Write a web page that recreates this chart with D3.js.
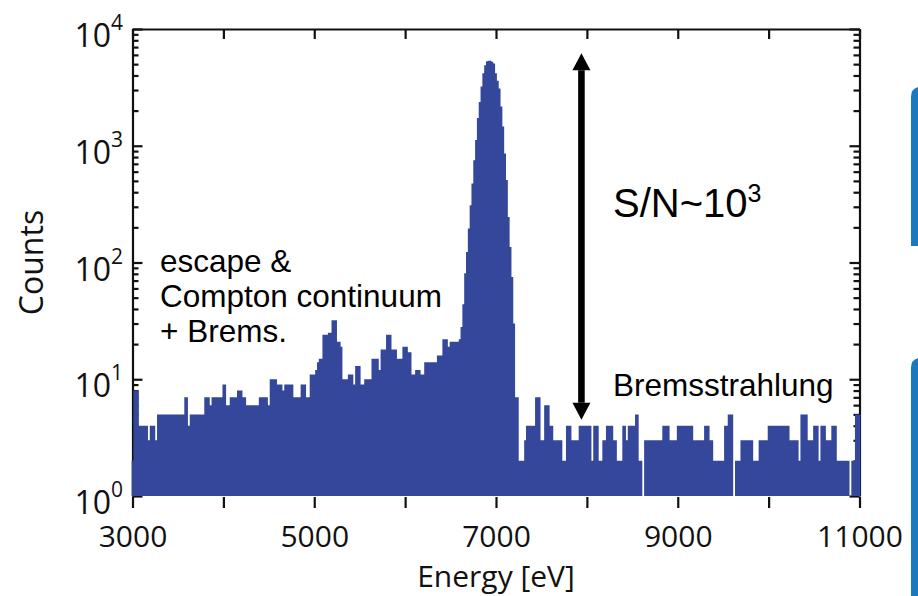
<!DOCTYPE html>
<html>
<head>
<meta charset="utf-8">
<script src="https://cdn.jsdelivr.net/npm/d3@7"></script>
<style>
  html, body { margin: 0; padding: 0; background: #fff; }
  svg { display: block; }
</style>
</head>
<body>
<svg id="chart" width="918" height="596"></svg>
<script>
// Energy spectrum: each step starts at stepStart[i] (eV) and holds stepCount[i] counts.
// Steps run on a 20 eV bin grid; the last step closes at spectrumEnd.
const stepStart = [
  2990, 3010, 3070, 3170, 3190, 3250, 3270, 3570, 3610, 3630, 3790, 3850, 3870, 3990,
  4030, 4070, 4150, 4210, 4250, 4390, 4490, 4510, 4590, 4650, 4670, 4770, 4850, 4910,
  4950, 5010, 5030, 5050, 5090, 5150, 5190, 5250, 5290, 5310, 5370, 5430, 5450, 5510,
  5550, 5630, 5710, 5730, 5790, 5850, 5910, 5970, 6030, 6070, 6110, 6170, 6210, 6350,
  6410, 6470, 6490, 6590, 6610, 6630, 6650, 6670, 6690, 6710, 6730, 6750, 6770, 6790,
  6810, 6830, 6850, 6870, 6890, 6910, 6930, 6950, 6970, 6990, 7010, 7030, 7050, 7070,
  7090, 7110, 7130, 7150, 7170, 7190, 7210, 7250, 7310, 7330, 7430, 7490, 7530, 7590,
  7630, 7730, 7770, 7830, 7910, 8050, 8070, 8130, 8170, 8210, 8290, 8330, 8390, 8430,
  8450, 8530, 8570, 8610, 8630, 8830, 8910, 8990, 9170, 9290, 9350, 9390, 9510, 9550,
  9610, 9630, 9690, 9830, 9890, 9990, 10230, 10330, 10350, 10430, 10490, 10550, 10570,
  10630, 10690, 10750, 10890, 10910, 10950
];
const stepCount = [
  2, 8, 4, 3, 4, 3, 5, 7, 4, 5, 7, 6, 7, 9,
  6, 7, 8, 7, 6, 7, 6, 10, 9, 8, 9, 7, 9, 7,
  11, 12, 14, 15, 24, 25, 32, 21, 19, 10, 11, 9, 13, 9,
  10, 15, 12, 18, 24, 18, 15, 19, 17, 11, 12, 11, 14, 16,
  22, 19, 21, 22, 28, 44, 81, 123, 196, 310, 475, 750, 1120, 1730,
  2370, 3210, 4170, 4900, 5300, 5350, 5350, 5250, 5070, 4170, 3600, 3100, 2170, 1460,
  860, 510, 245, 136, 75, 30, 7, 2, 3, 4, 7, 3, 6, 4,
  3, 2, 4, 3, 4, 2, 4, 2, 3, 4, 3, 2, 4, 3,
  4, 5, 2, 1, 3, 4, 3, 4, 3, 4, 3, 2, 4, 5,
  1, 2, 3, 2, 3, 4, 3, 2, 5, 3, 4, 2, 4,
  3, 4, 2, 1, 2, 5
];
const spectrumEnd = 11010;

// Axis ticks
const energyTicks = [3000, 4000, 5000, 6000, 7000, 8000, 9000, 10000, 11000];
const energyLabels = [3000, 5000, 7000, 9000, 11000];
const countDecades = [1, 10, 100, 1000, 10000];
const decadeExponents = ["0", "1", "2", "3", "4"];

// Signal-to-noise arrow: from the background level up to the peak level
const snArrow = { energy: 7940, low: 4.5, high: 6200 };

const svg = d3.select("#chart");
const plotLeft = 132.5, plotRight = 859.5, plotTop = 29, plotBottom = 496;

const x = d3.scaleLinear().domain([3000, 11000]).range([plotLeft, plotRight]);
const y = d3.scaleLog().domain([1, 10000]).range([plotBottom, plotTop]);

const minorCounts = d3.range(0, 4).flatMap(d => d3.range(2, 10).map(m => m * Math.pow(10, d)));

const axisColor = "#111";
const axisWidth = 2.2;

function styleAxis(g) {
  g.selectAll("path.domain").attr("stroke", axisColor).attr("stroke-width", axisWidth);
  g.selectAll(".tick line").attr("stroke", axisColor).attr("stroke-width", axisWidth);
  g.selectAll(".tick text").remove();
}

// Left axis (ticks inward)
svg.append("g").attr("transform", `translate(${plotLeft},0)`)
  .call(d3.axisRight(y).tickValues(countDecades).tickSize(10).tickSizeOuter(0).tickFormat(""))
  .call(styleAxis);
svg.append("g").attr("transform", `translate(${plotLeft},0)`)
  .call(d3.axisRight(y).tickValues(minorCounts).tickSize(6).tickSizeOuter(0).tickFormat(""))
  .call(styleAxis)
  .call(g => g.select("path.domain").remove());

// Right axis (ticks inward)
svg.append("g").attr("transform", `translate(${plotRight},0)`)
  .call(d3.axisLeft(y).tickValues(countDecades).tickSize(10).tickSizeOuter(0).tickFormat(""))
  .call(styleAxis);
svg.append("g").attr("transform", `translate(${plotRight},0)`)
  .call(d3.axisLeft(y).tickValues(minorCounts).tickSize(6).tickSizeOuter(0).tickFormat(""))
  .call(styleAxis)
  .call(g => g.select("path.domain").remove());

// Top axis (ticks inward)
svg.append("g").attr("transform", `translate(0,${plotTop})`)
  .call(d3.axisBottom(x).tickValues(energyTicks).tickSize(10).tickSizeOuter(0).tickFormat(""))
  .call(styleAxis);

// Bottom axis (ticks outward, no baseline)
const bottomAxis = svg.append("g").attr("transform", `translate(0,${plotBottom + 1})`)
  .call(d3.axisBottom(x).tickValues(energyTicks).tickSize(11).tickSizeOuter(0)
    .tickFormat(d => energyLabels.includes(d) ? String(d) : ""));
bottomAxis.select("path.domain").remove();
bottomAxis.selectAll(".tick line").attr("stroke", axisColor).attr("stroke-width", axisWidth);
bottomAxis.selectAll(".tick text")
  .attr("y", 50).attr("dy", null)
  .attr("fill", "#111")
  .style("font-family", "'Open Sans', sans-serif")
  .style("font-size", "30px");

// Histogram drawn as a filled step outline
const stepPoints = stepStart.map((e, i) => [e, stepCount[i]]);
stepPoints.push([spectrumEnd, stepCount[stepCount.length - 1]]);
const area = d3.area()
  .x(d => x(d[0]))
  .y0(plotBottom)
  .y1(d => y(d[1]))
  .curve(d3.curveStepAfter);
svg.append("path")
  .datum(stepPoints)
  .attr("d", area)
  .attr("fill", "#34479b");

// Y tick labels: 10^n
const yLabels = svg.append("g")
  .style("font-family", "'Open Sans', sans-serif")
  .attr("fill", "#111");
countDecades.forEach((v, i) => {
  const t = yLabels.append("text")
    .attr("x", 123)
    .attr("y", y(v) + 18)
    .attr("text-anchor", "end")
    .style("font-size", "32px");
  t.append("tspan").text("10");
  t.append("tspan").attr("dy", -17).style("font-size", "21px").text(decadeExponents[i]);
});

// Axis titles
svg.append("text")
  .attr("x", (plotLeft + plotRight) / 2)
  .attr("y", 587)
  .attr("text-anchor", "middle")
  .style("font-family", "'Open Sans', sans-serif")
  .style("font-size", "30px")
  .attr("fill", "#111")
  .text("Energy [eV]");
svg.append("text")
  .attr("transform", `translate(43,${(plotTop + plotBottom) / 2}) rotate(-90)`)
  .attr("text-anchor", "middle")
  .style("font-family", "'Open Sans', sans-serif")
  .style("font-size", "32px")
  .attr("fill", "#111")
  .text("Counts");

// Double-headed arrow for S/N
const ax = x(snArrow.energy);
const yHi = y(snArrow.high), yLo = y(snArrow.low);
const headLen = 17, headHalf = 9, shaftHalf = 3.3;
svg.append("path")
  .attr("d", `M${ax - shaftHalf},${yHi + headLen} L${ax + shaftHalf},${yHi + headLen} L${ax + shaftHalf},${yLo - headLen} L${ax - shaftHalf},${yLo - headLen} Z`)
  .attr("fill", "#000");
svg.append("path")
  .attr("d", `M${ax},${yHi} L${ax + headHalf},${yHi + headLen} L${ax - headHalf},${yHi + headLen} Z`)
  .attr("fill", "#000");
svg.append("path")
  .attr("d", `M${ax},${yLo} L${ax + headHalf},${yLo - headLen} L${ax - headHalf},${yLo - headLen} Z`)
  .attr("fill", "#000");

// Annotations
const note = svg.append("g")
  .style("font-family", "'Liberation Sans', Arial, sans-serif")
  .attr("fill", "#000");
[["escape &", 272], ["Compton continuum", 307], ["+ Brems.", 342]].forEach(([s, yy]) => {
  note.append("text").attr("x", 160).attr("y", yy).style("font-size", "31.5px").text(s);
});
note.append("text").attr("x", 613).attr("y", 396).style("font-size", "31.5px").text("Bremsstrahlung");
const sn = note.append("text").attr("x", 613).attr("y", 217).style("font-size", "40px");
sn.append("tspan").text("S/N~10");
sn.append("tspan").attr("dy", -15).style("font-size", "25px").text("3");

// Slide-edge panels on the right
const panel = svg.append("g").attr("fill", "#1b79bf");
[[89, 246], [360, 596]].forEach(([y0, y1]) => {
  panel.append("path")
    .attr("d", `M911,${y0 + 8} Q911,${y0} 918,${y0 - 2} L918,${y1} L911,${y1} Z`);
});
</script>
</body>
</html>
